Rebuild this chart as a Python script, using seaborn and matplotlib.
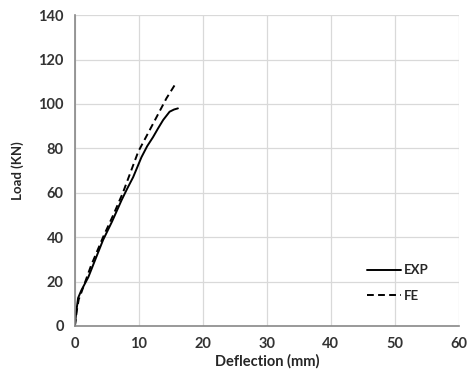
import seaborn as sns
import matplotlib.pyplot as plt
import pandas as pd

exp_x = [0, 0.2, 0.5, 1.0, 2.1, 3.2, 4.4, 5.8, 7.3, 8.2, 9.1, 10.4, 11.3, 12.2, 13.0, 13.8, 14.8, 15.5, 16.1]
exp_y = [0, 6, 12.6, 16, 22, 30, 38.7, 47, 56.7, 62, 67, 76, 81, 85, 89, 92.8, 96.5, 97.5, 98]
fe_x = [0, 0.3, 0.6, 1.0, 2.5, 4.4, 6.0, 7.5, 9.9, 12.2, 14.3, 15.6]
fe_y = [0, 7, 12, 15, 27, 40, 50, 60, 78.5, 91, 102.5, 108.5]

df = pd.concat([
    pd.DataFrame({'x': exp_x, 'y': exp_y, 'series': 'EXP'}),
    pd.DataFrame({'x': fe_x, 'y': fe_y, 'series': 'FE'}),
])

sns.set_style('white')
plt.rcParams['font.family'] = ['Lato', 'DejaVu Sans']
plt.rcParams['font.weight'] = 'bold'

fig = plt.figure(figsize=(4.74, 3.78), dpi=100)
ax = fig.add_axes([0.158, 0.1376, 0.81, 0.8224])
ax.grid(True, color='#d9d9d9', linewidth=0.9)
ax.set_axisbelow(True)

sns.lineplot(data=df, x='x', y='y', style='series', dashes={'EXP': '', 'FE': (3.5, 2.2)},
             color='black', linewidth=1.4, sort=False, estimator=None, ax=ax)

ax.set_xlim(0, 60)
ax.set_ylim(0, 140)
ax.set_xticks(range(0, 61, 10))
ax.set_yticks(range(0, 141, 20))
for s in ['top', 'right']:
    ax.spines[s].set_visible(False)
for s in ['left', 'bottom']:
    ax.spines[s].set_color('#888888')
    ax.spines[s].set_linewidth(1.2)
ax.tick_params(axis='x', direction='out', length=4, color='#888888', labelsize=10.5, pad=4)
ax.tick_params(axis='y', length=0, labelsize=10.5, pad=8)
for lbl in ax.get_xticklabels() + ax.get_yticklabels():
    lbl.set_fontweight('bold')
    lbl.set_color('#333333')

ax.set_xlabel('Deflection (mm)', fontsize=10.5, fontweight='bold', labelpad=2)
ax.set_ylabel('Load (KN)', fontsize=9.5, fontweight='bold', labelpad=10)

leg = ax.legend(title=None, loc='lower left', bbox_to_anchor=(0.73, 0.04), frameon=False,
                handlelength=2.6, fontsize=9.5, labelspacing=1.0, handletextpad=0.2)
for t in leg.get_texts():
    t.set_fontweight('bold')

fig.savefig('out.png', dpi=100)
